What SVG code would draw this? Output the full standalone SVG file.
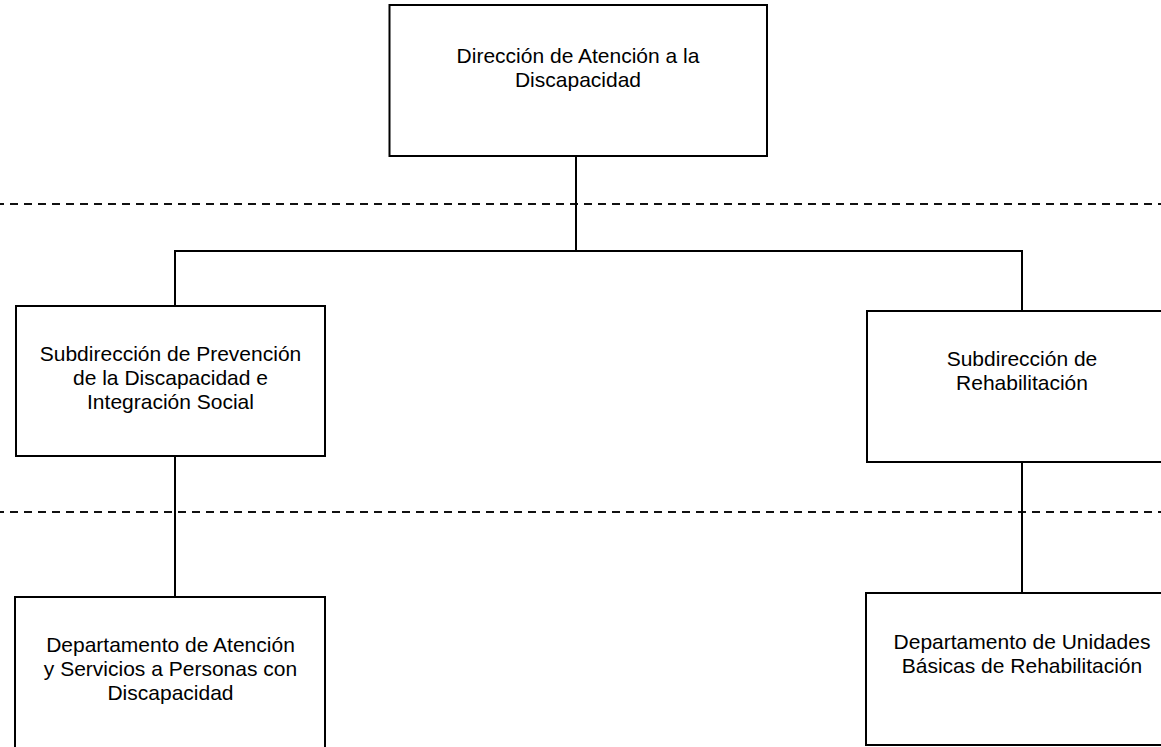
<svg xmlns="http://www.w3.org/2000/svg" width="1161" height="747" viewBox="0 0 1161 747">
<style>
.box{fill:#fff;stroke:#000;stroke-width:2}
.ln{fill:none;stroke:#000;stroke-width:2}
.dash{fill:none;stroke:#111;stroke-width:1.8;stroke-dasharray:8 6;stroke-dashoffset:4}
text{font-family:"Liberation Sans",Arial,sans-serif;font-size:21px;fill:#000;text-anchor:middle}
</style>
<rect width="1161" height="747" fill="#fff"/>
<g id="levels">
<line class="dash" x1="0" y1="204" x2="1161" y2="204"/>
<line class="dash" x1="0" y1="512" x2="1161" y2="512"/>
</g>
<g id="connectors">
<polyline class="ln" points="576,156 576,251"/>
<polyline class="ln" points="175,306 175,251 1022,251 1022,311"/>
<line class="ln" x1="175" y1="456" x2="175" y2="597"/>
<line class="ln" x1="1022" y1="462" x2="1022" y2="593"/>
</g>
<g id="direccion">
<rect class="box" x="389.5" y="5" width="377.5" height="151"/>
<text x="578" y="63">Dirección de Atención a la</text>
<text x="578" y="87">Discapacidad</text>
</g>
<g id="subdir-prevencion">
<rect class="box" x="16" y="306" width="309" height="150"/>
<text x="170.5" y="361">Subdirección de Prevención</text>
<text x="170.5" y="385">de la Discapacidad e</text>
<text x="170.5" y="409">Integración Social</text>
</g>
<g id="subdir-rehabilitacion">
<rect class="box" x="867" y="311" width="310" height="151"/>
<text x="1022" y="366">Subdirección de</text>
<text x="1022" y="390">Rehabilitación</text>
</g>
<g id="depto-atencion">
<rect class="box" x="15" y="597" width="310" height="160"/>
<text x="170.5" y="652">Departamento de Atención</text>
<text x="170.5" y="676">y Servicios a Personas con</text>
<text x="170.5" y="700">Discapacidad</text>
</g>
<g id="depto-unidades">
<rect class="box" x="866" y="593" width="311" height="152"/>
<text x="1022" y="649">Departamento de Unidades</text>
<text x="1022" y="673">Básicas de Rehabilitación</text>
</g>
</svg>
